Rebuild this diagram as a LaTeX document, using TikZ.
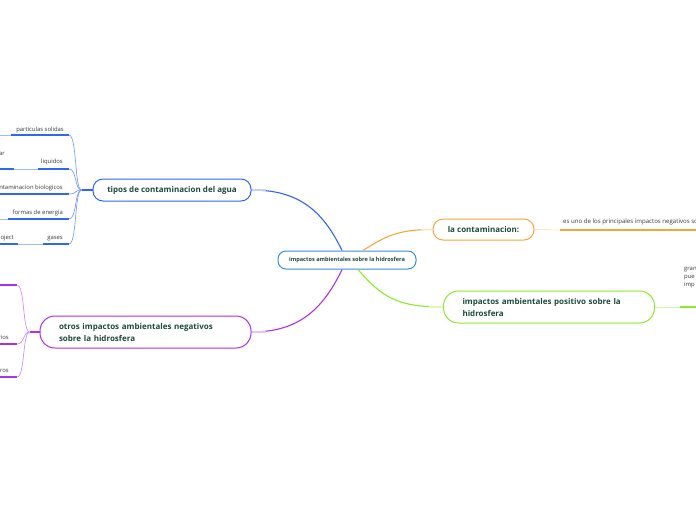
\documentclass[tikz,border=0pt]{standalone}
\usepackage{fontspec}
\setmainfont{Open Sans}
\usetikzlibrary{positioning}
\definecolor{azul}{HTML}{2F66F5}
\definecolor{morado}{HTML}{A832F0}
\definecolor{naranja}{HTML}{F7A63A}
\definecolor{verde}{HTML}{8DEB2C}
\definecolor{celeste}{HTML}{3D8ED8}
\definecolor{texto}{HTML}{1E4A3A}
\definecolor{gris}{HTML}{3A3A3A}
\tikzset{
  tema/.style={draw,fill=white,line width=1pt,rounded corners=10pt,text=texto,
    font=\fontsize{8}{12}\selectfont\bfseries,inner sep=0pt,minimum height=22pt},
  tema2/.style={tema,rounded corners=15pt,minimum height=32pt,text width=173pt,
    inner xsep=19pt,align=left},
  hoja/.style={text=gris,font=\fontsize{5.9}{6}\selectfont,inner sep=0pt},
  raya/.style={line width=1.8pt},
  rama/.style={line width=0.6pt},
  conector/.style={line width=1.1pt}
}

\begin{document}
\begin{tikzpicture}[x=1pt,y=-1pt]
    \clip (0,0) rectangle (696,520);
    \fill[white] (0,0) rectangle (696,520);
    \node[tema,draw=celeste,minimum width=138pt,minimum height=18pt,rounded corners=8pt,
      font=\fontsize{5.6}{6}\selectfont\bfseries] (centro) at (347,260) {impactos ambientales sobre la hidrosfera};
    \node[tema,draw=azul,minimum width=158pt] (tipos) at (172,190) {tipos de contaminacion del agua};
    \node[tema,draw=naranja,minimum width=101pt,minimum height=21pt] (contam) at (483.5,229.5) {la contaminacion:};
    \node[tema2,draw=morado] (otros) at (145.5,332) {otros impactos ambientales negativos\\sobre la hidrosfera};
    \node[tema2,draw=verde] (positivo) at (549,307) {impactos ambientales positivo sobre la\\hidrosfera};

    \draw[conector,azul] ([xshift=-5pt]centro.north) .. controls +(-20,-42) and +(45,0) .. (tipos.east);
    \draw[conector,morado] ([xshift=-5pt]centro.south) .. controls +(-20,42) and +(45,0) .. (otros.east);
    \draw[conector,naranja] ([xshift=16pt]centro.north) .. controls +(22,-14) and +(-35,0) .. (contam.west);
    \draw[conector,verde] ([xshift=11pt]centro.south) .. controls +(24,28) and +(-45,0) .. (positivo.west);
    \draw[conector,azul!30] (tipos.east) -- ++(14,0);
    \draw[conector,morado!30] (otros.east) -- ++(14,0);
    \draw[conector,naranja!30] (contam.west) -- ++(-12,0);
    \draw[conector,verde!30] (positivo.west) -- ++(-14,0);

    \draw[conector,azul] (tipos.west) -- ++(-11,0) coordinate (hubA);
    \node[hoja,anchor=base east] (particulas) at (64,131) {particulas solidas};
    \node[hoja,anchor=base east] (liquidos) at (63,163) {liquidos};
    \node[hoja,anchor=base east] (ar) at (5,155) {ar};
    \node[hoja,anchor=base east] (biologicos) at (63,189) {contaminacion biologicos};
    \node[hoja,anchor=base east] (energia) at (63,214) {formas de energia};
    \node[hoja,anchor=base east] (gases) at (63,239) {gases};
    \node[hoja,anchor=base east] (oject) at (14,239) {oject};
    \draw[raya,azul] (11,135) -- (69,135) coordinate (h1);
    \draw[raya,azul] (38,169) -- (69,169) coordinate (h2);
    \draw[raya,azul] (0,169) -- (14,169) coordinate (h2b);
    \draw[raya,azul] (0,194) -- (69,194) coordinate (h3);
    \draw[raya,azul] (8,219) -- (69,219) coordinate (h4);
    \draw[raya,azul] (43,244) -- (69,244) coordinate (h5);
    \draw[raya,azul] (0,244) -- (18,244) coordinate (h5b);
    \draw[rama,azul!45] (0,135) -- (11,135);
    \draw[rama,azul!45] (h2b) -- (38,169);
    \draw[rama,azul!45] (0,219) -- (8,219);
    \draw[rama,azul!45] (h5b) -- (43,244);
    \foreach \h in {h1,h2,h3,h4,h5}
      \draw[rama,azul!70] (hubA) .. controls +(-7,0) and +(8,0) .. (\h);

    \draw[conector,morado] (otros.west) -- ++(-10,0) coordinate (hubB);
    \node[hoja,anchor=base east] (rios) at (9,339) {rios};
    \node[hoja,anchor=base east] (ros) at (9,372) {ros};
    \draw[raya,morado] (0,285) -- (17,285) coordinate (m1);
    \draw[raya,morado] (0,344) -- (17,344) coordinate (m2);
    \draw[raya,morado] (0,377) -- (17,377) coordinate (m3);
    \foreach \m in {m1,m2,m3}
      \draw[rama,morado!60] (hubB) .. controls +(-7,0) and +(8,0) .. (\m);

    \node[hoja,anchor=base west,font=\fontsize{6.1}{7}\selectfont] (negativos) at (563,223) {es uno de los principales impactos negativos so};
    \draw[rama,naranja!40] (contam.east) -- (560,230) coordinate (n1);
    \draw[raya,naranja] (n1) -- (696,230);

    \node[hoja,anchor=base west,align=left,font=\fontsize{5.9}{8}\selectfont] (gran) at (684,286) {gran\\pue\\imp};
    \draw[rama,verde!40] (positivo.east) -- (680,307) coordinate (v1);
    \draw[raya,verde] (v1) -- (696,307);
\end{tikzpicture}
\end{document}
